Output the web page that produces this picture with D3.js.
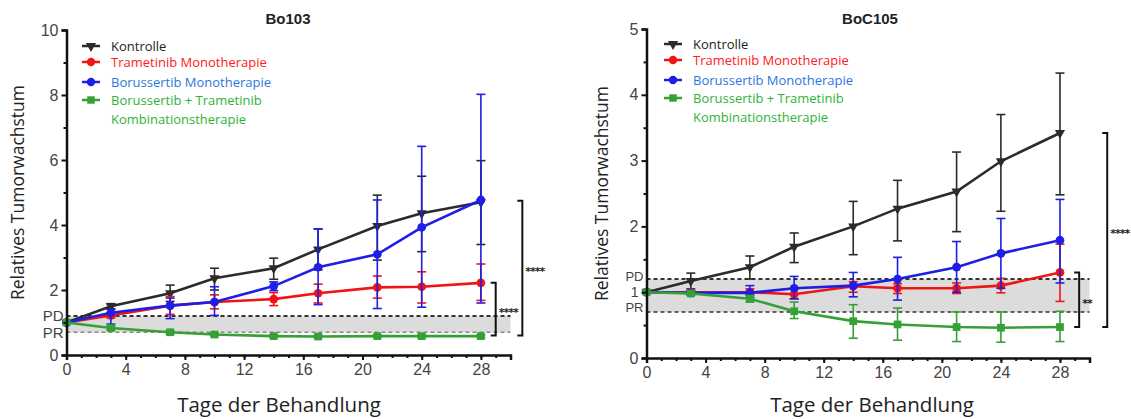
<!DOCTYPE html>
<html>
<head>
<meta charset="utf-8">
<script src="https://cdn.jsdelivr.net/npm/d3@7"></script>
<style>
  body { margin: 0; background: #fff; }
  svg { display: block; }
</style>
</head>
<body>
<div id="chart"></div>
<script>
// Messtage
const days = [0, 3, 7, 10, 14, 17, 21, 24, 28];

// Bo103 - Mittelwerte und Fehlerbalken (oberes / unteres Ende)
const bo103Kontrolle   = [1.0, 1.50, 1.90, 2.36, 2.67, 3.25, 3.97, 4.36, 4.70];
const bo103KontrolleHi = [1.0, 1.58, 2.15, 2.67, 2.98, 3.88, 4.92, 5.50, 5.98];
const bo103KontrolleLo = [1.0, 1.42, 1.65, 2.00, 2.33, 2.62, 2.92, 3.18, 3.40];
const bo103Tram        = [1.0, 1.22, 1.52, 1.63, 1.72, 1.90, 2.08, 2.10, 2.22];
const bo103TramHi      = [1.0, 1.30, 1.80, 1.85, 1.92, 2.18, 2.43, 2.56, 2.80];
const bo103TramLo      = [1.0, 1.14, 1.25, 1.42, 1.52, 1.60, 1.75, 1.60, 1.68];
const bo103Boru        = [1.0, 1.30, 1.52, 1.63, 2.12, 2.70, 3.10, 3.93, 4.77];
const bo103BoruHi      = [1.0, 1.40, 1.75, 2.10, 2.25, 3.88, 4.77, 6.42, 8.02];
const bo103BoruLo      = [1.0, 0.95, 1.12, 1.22, 1.98, 1.55, 1.43, 1.47, 1.60];
const bo103Kombi       = [1.0, 0.83, 0.70, 0.63, 0.58, 0.57, 0.58, 0.58, 0.58];
const bo103KombiHi     = [1.0, 0.90, 0.75, 0.67, 0.62, 0.61, 0.62, 0.62, 0.62];
const bo103KombiLo     = [1.0, 0.77, 0.65, 0.59, 0.54, 0.53, 0.54, 0.54, 0.54];

// BoC105
const boc105Kontrolle   = [1.0, 1.17, 1.38, 1.69, 2.00, 2.27, 2.53, 2.99, 3.42];
const boc105KontrolleHi = [1.0, 1.29, 1.55, 1.90, 2.38, 2.70, 3.13, 3.70, 4.33];
const boc105KontrolleLo = [1.0, 1.05, 1.20, 1.45, 1.57, 1.78, 1.92, 2.23, 2.48];
const boc105Tram        = [1.0, 1.00, 1.00, 0.97, 1.09, 1.06, 1.06, 1.10, 1.30];
const boc105TramHi      = [1.0, 1.02, 1.05, 1.05, 1.16, 1.13, 1.14, 1.21, 1.73];
const boc105TramLo      = [1.0, 0.98, 0.96, 0.90, 1.00, 0.98, 0.98, 0.99, 0.86];
const boc105Boru        = [1.0, 0.99, 0.99, 1.06, 1.10, 1.20, 1.38, 1.59, 1.79];
const boc105BoruHi      = [1.0, 1.02, 1.10, 1.24, 1.30, 1.53, 1.77, 2.12, 2.41];
const boc105BoruLo      = [1.0, 0.96, 0.92, 0.90, 0.93, 0.88, 1.00, 1.06, 1.14];
const boc105Kombi       = [1.0, 0.98, 0.90, 0.71, 0.56, 0.51, 0.47, 0.46, 0.47];
const boc105KombiHi     = [1.0, 1.00, 0.95, 0.85, 0.81, 0.76, 0.70, 0.70, 0.71];
const boc105KombiLo     = [1.0, 0.96, 0.85, 0.60, 0.30, 0.27, 0.25, 0.24, 0.25];

// Legende
const legendLabels = ["Kontrolle", "Trametinib Monotherapie", "Borussertib Monotherapie", "Borussertib + Trametinib"];
const legendSecondLine = "Kombinationstherapie";

// Schwellen PD / PR
const pdValue = 1.2, prValue = 0.7;

// Signifikanz-Klammern [x in Tagen, oben, unten, Label]
const bo103Brackets  = [[29.0, 2.22, 0.60, "****"], [30.8, 4.75, 0.60, "****"]];
const boc105Brackets = [[29.3, 1.30, 0.47, "**"], [31.2, 3.42, 0.47, "****"]];

const seriesColors = ["#2b2b2b", "#f01414", "#1e1ee6", "#35a035"];
const textColors   = ["#222", "#ff2020", "#2a78dc", "#2fb23a"];
const symbols      = [d3.symbolTriangle, d3.symbolCircle, d3.symbolCircle, d3.symbolSquare];

const W = 1131, H = 419;
const svg = d3.select("#chart").append("svg").attr("width", W).attr("height", H);

function drawPanel(cfg)
{
	const x = d3.scaleLinear().domain([0, 30]).range(cfg.xRange);
	const y = d3.scaleLinear().domain([0, cfg.yMax]).range(cfg.yRange);
	const g = svg.append("g");

	// grey PD/PR band
	g.append("rect")
		.attr("x", x(0)).attr("y", y(pdValue))
		.attr("width", x(30) - x(0)).attr("height", y(prValue) - y(pdValue))
		.attr("fill", "#dcdcdc");

	g.append("line")
		.attr("x1", x(0)).attr("x2", x(30)).attr("y1", y(pdValue)).attr("y2", y(pdValue))
		.attr("stroke", "#333").attr("stroke-width", 2).attr("stroke-dasharray", "4,3");
	g.append("line")
		.attr("x1", x(0)).attr("x2", x(30)).attr("y1", y(prValue)).attr("y2", y(prValue))
		.attr("stroke", cfg.prColor).attr("stroke-width", 1.6).attr("stroke-dasharray", "4,3");

	// series: error bars first, then lines and markers
	cfg.series.forEach((s, i) =>
	{
		const pts = days.map((d, k) => ({ d: d, v: s.mean[k], hi: s.hi[k], lo: s.lo[k] }));
		const eb = g.append("g").attr("stroke", seriesColors[i]).attr("stroke-width", 1.6);
		pts.filter(p => p.hi - p.lo > 0.01).forEach(p =>
		{
			eb.append("line").attr("x1", x(p.d)).attr("x2", x(p.d)).attr("y1", y(p.hi)).attr("y2", y(p.lo));
			eb.append("line").attr("x1", x(p.d) - 4.5).attr("x2", x(p.d) + 4.5).attr("y1", y(p.hi)).attr("y2", y(p.hi));
			eb.append("line").attr("x1", x(p.d) - 4.5).attr("x2", x(p.d) + 4.5).attr("y1", y(p.lo)).attr("y2", y(p.lo));
		});
		g.append("path").datum(pts)
			.attr("fill", "none").attr("stroke", seriesColors[i]).attr("stroke-width", 2.6)
			.attr("d", d3.line().x(p => x(p.d)).y(p => y(p.v)));
		g.selectAll(null).data(pts).enter().append("path")
			.attr("transform", p => `translate(${x(p.d)},${y(p.v)})` + (i === 0 ? " rotate(180)" : ""))
			.attr("d", d3.symbol().type(symbols[i]).size(i === 0 ? 45 : 60))
			.attr("fill", seriesColors[i]);
	});

	// axes
	g.append("g").attr("transform", `translate(0,${cfg.yRange[0]})`)
		.call(d3.axisBottom(x).tickValues([0, 4, 8, 12, 16, 20, 24, 28]).tickSize(5).tickPadding(4));
	g.append("g").attr("transform", `translate(0,${cfg.yRange[0]})`)
		.call(d3.axisBottom(x).tickValues(d3.range(0, 31)).tickSize(3).tickFormat(""))
		.call(a => a.select(".domain").remove());
	const yAxis = g.append("g").attr("transform", `translate(${cfg.xRange[0]},0)`)
		.call(d3.axisLeft(y).tickValues(cfg.yTicks).tickFormat(d3.format("d")).tickSize(5).tickPadding(3));
	g.append("g").attr("transform", `translate(${cfg.xRange[0]},0)`)
		.call(d3.axisLeft(y).tickValues(cfg.yMinor).tickSize(3).tickFormat(""))
		.call(a => a.select(".domain").remove());

	g.selectAll(".domain").attr("stroke", "#111").attr("stroke-width", 2.5);
	g.selectAll(".tick line").attr("stroke", "#111").attr("stroke-width", 2);
	g.selectAll(".tick text")
		.attr("fill", "#444").style("font-family", "'Liberation Sans', Arial, sans-serif")
		.style("font-size", "16px");
	// the "1" label sits between PD and PR, keep it a bit smaller there
	yAxis.selectAll(".tick text").filter(d => d === 1).style("font-size", "14px");

	// PD / PR labels
	[["PD", pdValue, cfg.pdShift], ["PR", prValue, cfg.prShift]].forEach(([t, v, dy]) =>
	{
		g.append("text").attr("x", cfg.xRange[0] - 3).attr("y", y(v) + dy).attr("dy", "0.36em")
			.attr("text-anchor", "end").attr("fill", "#444")
			.style("font-family", "'Liberation Sans', Arial, sans-serif").style("font-size", cfg.pdFont)
			.text(t);
	});

	// brackets
	cfg.brackets.forEach(([bd, top, bottom, label]) =>
	{
		const bx = x(bd);
		g.append("path")
			.attr("d", `M${bx - 5},${y(top)}H${bx}V${y(bottom)}H${bx - 5}`)
			.attr("fill", "none").attr("stroke", "#111").attr("stroke-width", 2);
		g.append("text").attr("x", bx + 3).attr("y", y((top + bottom) / 2) + 7)
			.attr("fill", "#222").style("font-family", "'DejaVu Sans', sans-serif")
			.style("font-size", "11px").style("font-weight", "bold").style("letter-spacing", "-1px")
			.text(label);
	});

	// title
	g.append("text").attr("x", cfg.titleX).attr("y", 24).attr("text-anchor", "middle")
		.style("font-family", "'Liberation Sans', Arial, sans-serif").style("font-size", "15px")
		.style("font-weight", "bold").attr("fill", "#222").text(cfg.title);

	// axis titles
	g.append("text").attr("x", cfg.xTitleX).attr("y", 412).attr("text-anchor", "middle")
		.style("font-family", "'Open Sans', sans-serif").style("font-size", "20.5px").attr("fill", "#222")
		.text("Tage der Behandlung");
	g.append("text")
		.attr("transform", `translate(${cfg.yTitleX},${(cfg.yRange[0] + cfg.yRange[1]) / 2}) rotate(-90)`)
		.attr("text-anchor", "middle")
		.style("font-family", "'Open Sans', sans-serif").style("font-size", "17.5px").attr("fill", "#222")
		.text("Relatives Tumorwachstum");

	// legend
	const lg = g.append("g").attr("transform", `translate(${cfg.legendX},${cfg.legendY})`);
	const rowY = [0, 16, 36, 54];
	legendLabels.forEach((t, i) =>
	{
		lg.append("line").attr("x1", -9).attr("x2", 9).attr("y1", rowY[i]).attr("y2", rowY[i])
			.attr("stroke", seriesColors[i]).attr("stroke-width", 2.5);
		lg.append("path")
			.attr("transform", `translate(0,${rowY[i]})` + (i === 0 ? " rotate(180)" : ""))
			.attr("d", d3.symbol().type(symbols[i]).size(i === 0 ? 45 : 55))
			.attr("fill", seriesColors[i]);
		lg.append("text").attr("x", 20).attr("y", rowY[i]).attr("dy", "0.35em")
			.style("font-family", "'Open Sans', sans-serif").style("font-size", "13px")
			.attr("fill", textColors[i]).text(t);
	});
	lg.append("text").attr("x", 20).attr("y", rowY[3] + 19).attr("dy", "0.35em")
		.style("font-family", "'Open Sans', sans-serif").style("font-size", "13px")
		.attr("fill", textColors[3]).text(legendSecondLine);
}

drawPanel({
	title: "Bo103", titleX: 288,
	xRange: [66.5, 510.5], yRange: [355, 30], yMax: 10,
	yTicks: [0, 2, 4, 6, 8, 10], yMinor: [1, 3, 5, 7, 9],
	prColor: "#888", pdShift: 0, prShift: 0, pdFont: "15px", yTitleX: 24, xTitleX: 279,
	legendX: 91, legendY: 46,
	series: [
		{ mean: bo103Kontrolle, hi: bo103KontrolleHi, lo: bo103KontrolleLo },
		{ mean: bo103Tram, hi: bo103TramHi, lo: bo103TramLo },
		{ mean: bo103Boru, hi: bo103BoruHi, lo: bo103BoruLo },
		{ mean: bo103Kombi, hi: bo103KombiHi, lo: bo103KombiLo }
	],
	brackets: bo103Brackets
});

drawPanel({
	title: "BoC105", titleX: 870,
	xRange: [646.5, 1089.5], yRange: [358, 29], yMax: 5,
	yTicks: [0, 1, 2, 3, 4, 5], yMinor: [0.5, 1.5, 2.5, 3.5, 4.5],
	prColor: "#333", pdShift: -3, prShift: -5, pdFont: "13px", yTitleX: 608, xTitleX: 872,
	legendX: 673, legendY: 44,
	series: [
		{ mean: boc105Kontrolle, hi: boc105KontrolleHi, lo: boc105KontrolleLo },
		{ mean: boc105Tram, hi: boc105TramHi, lo: boc105TramLo },
		{ mean: boc105Boru, hi: boc105BoruHi, lo: boc105BoruLo },
		{ mean: boc105Kombi, hi: boc105KombiHi, lo: boc105KombiLo }
	],
	brackets: boc105Brackets
});
</script>
</body>
</html>
